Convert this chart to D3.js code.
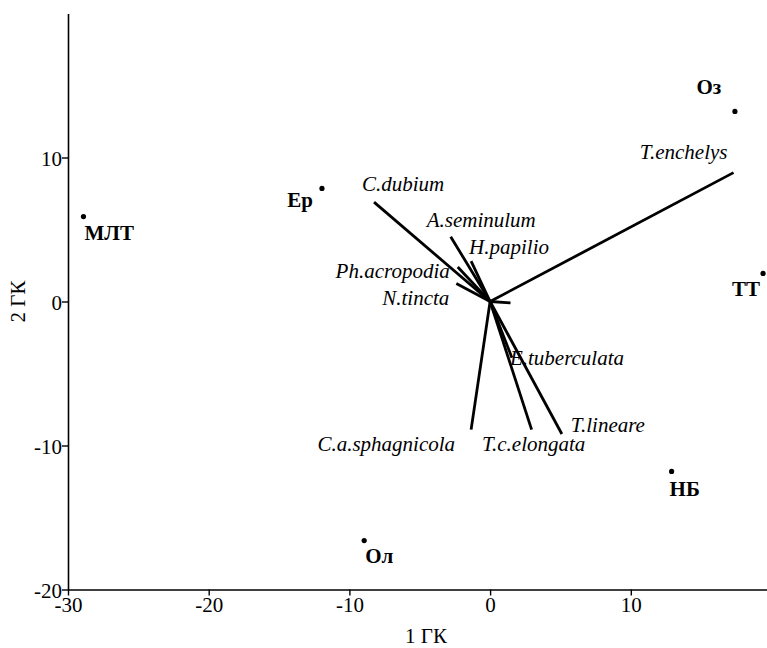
<!DOCTYPE html>
<html>
<head>
<meta charset="utf-8">
<script src="https://cdn.jsdelivr.net/npm/d3@7"></script>
<style>
  html, body { margin: 0; padding: 0; background: #fff; }
  svg text { font-family: "Liberation Serif", "DejaVu Serif", "Times New Roman", serif; }
</style>
</head>
<body>
<div id="chart"></div>
<script>
// Site scores (bold labels with dots)
const siteNames = ['МЛТ', 'Ер', 'Оз', 'ТТ', 'НБ', 'Ол'];
const siteX = [-28.9, -11.95, 17.4, 19.4, 12.9, -8.95];
const siteY = [5.9, 7.85, 13.2, 1.95, -11.8, -16.6];

// Species vectors (lines from origin, italic labels)
const speciesNames = ['T.enchelys', 'C.dubium', 'A.seminulum', 'H.papilio', 'Ph.acropodia',
  'N.tincta', '', 'E.tuberculata', 'C.a.sphagnicola', 'T.c.elongata', 'T.lineare'];
const speciesX = [17.3, -8.25, -2.8, -1.35, -2.3, -2.4, 1.45, 1.55, -1.35, 2.95, 5.1];
const speciesY = [8.95, 6.9, 4.5, 2.8, 2.4, 1.25, -0.1, -3.9, -8.9, -8.9, -9.2];

const xTicks = [-30, -20, -10, 0, 10];
const yTicks = [-20, -10, 0, 10];

// label placement (pixels relative to the mark)
const siteLabelPos = {
  'МЛТ': [1, 23, 'start'], 'Ер': [-9, 19, 'end'], 'Оз': [-26, -17, 'middle'],
  'ТТ': [-3, 23, 'end'], 'НБ': [-2, 25, 'start'], 'Ол': [1, 22, 'start']
};
const speciesLabelPos = {
  'T.enchelys': [-6, -14, 'end'], 'C.dubium': [-12, -11, 'start'],
  'A.seminulum': [-24, -10, 'start'], 'H.papilio': [-2, -7, 'start'],
  'Ph.acropodia': [-8, 11, 'end'], 'N.tincta': [-7, 21, 'end'],
  'E.tuberculata': [-2, 7, 'start'], 'C.a.sphagnicola': [-16, 21, 'end'],
  'T.c.elongata': [2, 21, 'middle'], 'T.lineare': [9, -2, 'start']
};

const width = 767, height = 648;
const serif = '"Liberation Serif", "DejaVu Serif", "Times New Roman", serif';
const fs = 21;

const svg = d3.select('#chart').append('svg')
  .attr('width', width)
  .attr('height', height);

const x = d3.scaleLinear().domain([-30, 20]).range([68, 771.5]);
const y = d3.scaleLinear().domain([-20, 20]).range([589.5, 13.5]);

// Axes
const xAxis = svg.append('g')
  .attr('transform', `translate(0,${y(-20)})`)
  .call(d3.axisBottom(x).tickValues(xTicks).tickFormat(d => String(d))
    .tickSize(6).tickPadding(2).tickSizeOuter(0));
const yAxis = svg.append('g')
  .attr('transform', `translate(${x(-30)},0)`)
  .call(d3.axisLeft(y).tickValues(yTicks).tickFormat(d => String(d))
    .tickSize(6).tickPadding(0).tickSizeOuter(0));

[xAxis, yAxis].forEach(g => {
  g.attr('font-family', serif).attr('font-size', fs);
  g.select('.domain').attr('stroke', '#000').attr('stroke-width', 1.6);
  g.selectAll('.tick line').attr('stroke', '#000').attr('stroke-width', 1.4);
  g.selectAll('.tick text').attr('fill', '#000');
});
yAxis.selectAll('.tick text').attr('dy', '0.4em');

// Axis titles
svg.append('text')
  .attr('x', 426).attr('y', 643)
  .attr('text-anchor', 'middle')
  .attr('font-family', serif)
  .attr('font-size', fs)
  .text('1 ГК');
svg.append('text')
  .attr('transform', `translate(25,${y(0)}) rotate(-90)`)
  .attr('text-anchor', 'middle')
  .attr('font-family', serif)
  .attr('font-size', fs)
  .text('2 ГК');

// Species vectors
const species = speciesNames.map((name, i) => ({ name, x: speciesX[i], y: speciesY[i] }));

svg.append('g').selectAll('line')
  .data(species)
  .join('line')
  .attr('x1', x(0)).attr('y1', y(0))
  .attr('x2', d => x(d.x)).attr('y2', d => y(d.y))
  .attr('stroke', '#000')
  .attr('stroke-width', 2.8);

svg.append('g').selectAll('text')
  .data(species.filter(d => d.name))
  .join('text')
  .attr('x', d => x(d.x) + speciesLabelPos[d.name][0])
  .attr('y', d => y(d.y) + speciesLabelPos[d.name][1])
  .attr('text-anchor', d => speciesLabelPos[d.name][2])
  .attr('font-family', serif)
  .attr('font-style', 'italic')
  .attr('font-size', fs)
  .text(d => d.name);

// Sites
const sites = siteNames.map((name, i) => ({ name, x: siteX[i], y: siteY[i] }));

svg.append('g').selectAll('circle')
  .data(sites)
  .join('circle')
  .attr('cx', d => x(d.x))
  .attr('cy', d => y(d.y))
  .attr('r', 2.6)
  .attr('fill', '#000');

svg.append('g').selectAll('text')
  .data(sites)
  .join('text')
  .attr('x', d => x(d.x) + siteLabelPos[d.name][0])
  .attr('y', d => y(d.y) + siteLabelPos[d.name][1])
  .attr('text-anchor', d => siteLabelPos[d.name][2])
  .attr('font-family', serif)
  .attr('font-weight', 'bold')
  .attr('font-size', fs)
  .text(d => d.name);
</script>
</body>
</html>
